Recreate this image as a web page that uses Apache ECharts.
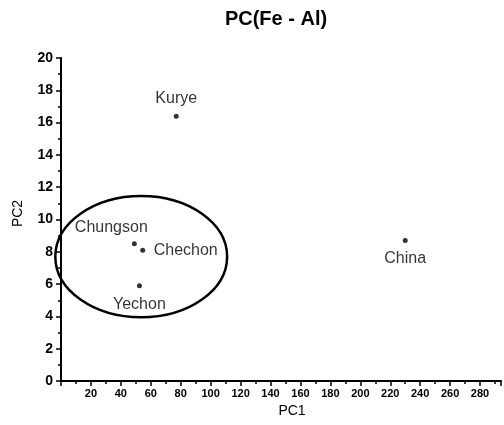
<!DOCTYPE html>
<html><head><meta charset="utf-8">
<script src="https://cdn.jsdelivr.net/npm/echarts@6/dist/echarts.min.js"></script>
<style>html,body{margin:0;padding:0;background:#fff}#c{width:504px;height:425px}</style>
</head><body><div id="c"></div>
<script>
const names = ['Kurye', 'Chungson', 'Chechon', 'Yechon', 'China'];
const pc1 = [77, 49, 54.6, 52.4, 230];
const pc2 = [16.4, 8.5, 8.1, 5.9, 8.7];
const labelPos = ['top', 'top', 'right', 'bottom', 'bottom'];
// grouping ellipse: center PC1, center PC2, radius PC1, radius PC2
const ellipse = [[53.6, 7.7, 57.4, 3.75]];

const font = '"Liberation Sans", Arial, sans-serif';
const chart = echarts.init(document.getElementById('c'));
const labelOffsets = [[0, 0], [-23, 1], [1.5, 0], [0, 1], [0, 1]];
chart.setOption({
  animation: false,
  title: {text: 'PC(Fe - Al)', left: 271, top: 4, textAlign: 'center',
    textStyle: {fontFamily: font, fontSize: 20, fontWeight: 'bold', color: '#000'}},
  grid: {left: 61, right: 0, top: 58, bottom: 44, containLabel: false},
  xAxis: {type: 'value', min: 0, max: 294, interval: 20,
    name: 'PC1', nameLocation: 'middle', nameGap: 23, nameMoveOverlap: false,
    nameTextStyle: {fontFamily: font, fontSize: 14, color: '#000', padding: [0, 0, 0, 22]},
    axisLine: {lineStyle: {color: '#000', width: 2}},
    axisTick: {length: 5, lineStyle: {color: '#000', width: 1.5}},
    minorTick: {show: true, splitNumber: 2, length: 3, lineStyle: {color: '#000', width: 1.5}},
    splitLine: {show: false},
    axisLabel: {margin: 7, fontFamily: font, fontSize: 11, fontWeight: 'bold', color: '#000',
      formatter: v => (v === 0 || v % 20 !== 0) ? '' : String(v)}},
  yAxis: {type: 'value', min: 0, max: 20, interval: 2, offset: 3,
    name: 'PC2', nameLocation: 'middle', nameGap: 33, nameRotate: 90,
    nameTextStyle: {fontFamily: font, fontSize: 14, color: '#000', padding: [0, 0, 0, 12]},
    axisLine: {lineStyle: {color: '#000', width: 2}},
    axisTick: {length: 5, lineStyle: {color: '#000', width: 1.5}},
    minorTick: {show: true, splitNumber: 2, length: 3, lineStyle: {color: '#000', width: 1.5}},
    splitLine: {show: false},
    axisLabel: {margin: 5, fontFamily: font, fontSize: 14, fontWeight: 'bold', color: '#000'}},
  series: [
    {type: 'custom', clip: false, silent: true,
      data: ellipse,
      renderItem: function (params, api) {
        const c = api.coord([api.value(0), api.value(1)]);
        const s = api.size([api.value(2), api.value(3)]);
        return {type: 'ellipse', shape: {cx: c[0], cy: c[1], rx: s[0], ry: s[1]},
          style: {fill: 'none', stroke: '#000', lineWidth: 2.5}};
      }},
    {type: 'scatter', symbol: 'circle', symbolSize: 5,
      itemStyle: {color: '#000'},
      data: names.map((n, i) => ({name: n, value: [pc1[i], pc2[i]],
        label: {show: true, position: labelPos[i], offset: labelOffsets[i], distance: 7,
          formatter: n, fontFamily: font, fontSize: 16, color: '#000'}}))}
  ]
});
</script></body></html>
